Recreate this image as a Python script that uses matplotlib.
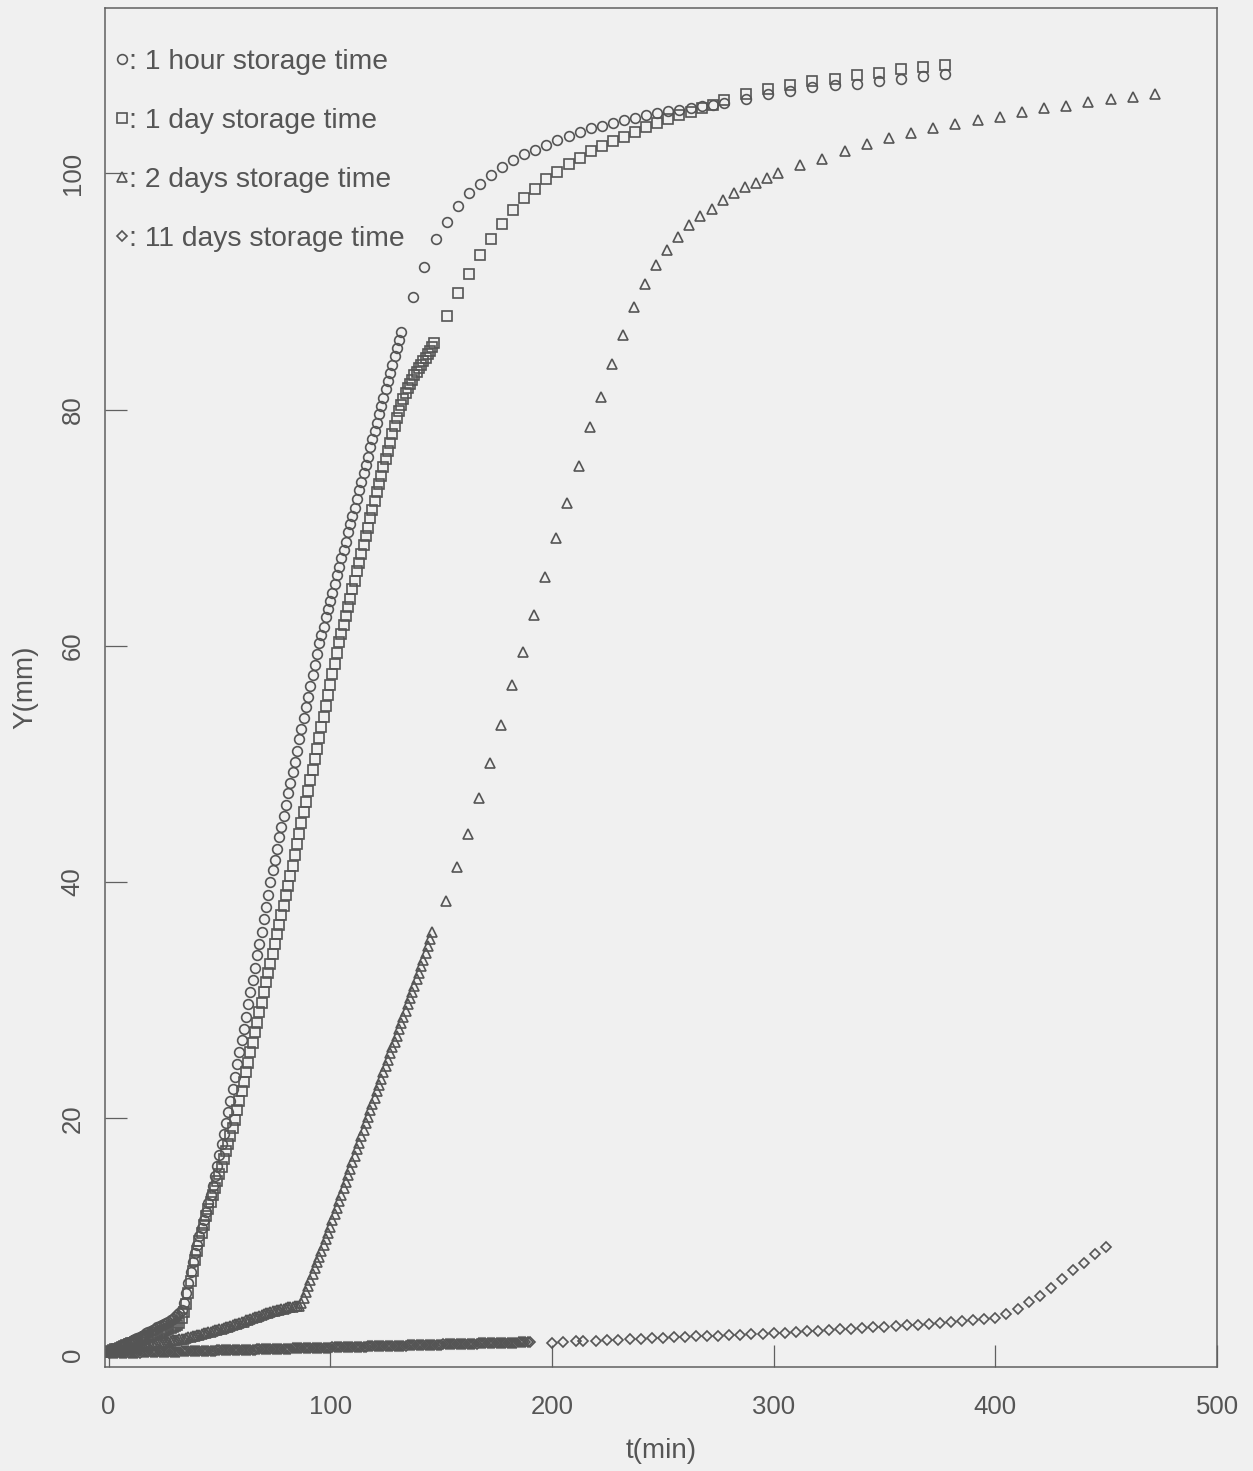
import matplotlib
matplotlib.use("Agg")
import matplotlib.pyplot as plt
import numpy as np

plt.rcParams['font.family'] = ['Liberation Sans', 'DejaVu Sans']

GREY = '#555555'
BG = '#f0f0f0'

# ---- 1 hour storage time (circles) ----
t_hour = list(range(0, 133)) + [
    137.5, 142.5, 147.5, 152.5, 157.5, 162.5, 167.5, 172.5, 177.5, 182.5,
    187.5, 192.5, 197.5, 202.5, 207.5, 212.5, 217.5, 222.5, 227.5, 232.5,
    237.5, 242.5, 247.5, 252.5, 257.5, 262.5, 267.5, 272.5, 277.5,
    287.5, 297.5, 307.5, 317.5, 327.5, 337.5, 347.5, 357.5, 367.5, 377.5]
y_hour = [
    0.2, 0.3, 0.4, 0.5, 0.6, 0.7, 0.75, 0.85, 0.95, 1.0,
    1.1, 1.2, 1.3, 1.4, 1.5, 1.6, 1.7, 1.8, 1.9, 2.0,
    2.1, 2.2, 2.3, 2.4, 2.5, 2.6, 2.7, 2.8, 2.9, 3.0,
    3.2, 3.35, 3.5, 3.8, 4.4, 5.2, 6.1, 7.0, 7.8, 8.6,
    9.3, 10.0, 10.7, 11.4, 12.1, 12.8, 13.5, 14.3, 15.1, 16.0,
    16.9, 17.8, 18.7, 19.6, 20.5, 21.5, 22.5, 23.5, 24.6, 25.6,
    26.6, 27.6, 28.6, 29.7, 30.7, 31.7, 32.7, 33.8, 34.8, 35.8,
    36.9, 37.9, 38.9, 40.0, 41.0, 41.9, 42.8, 43.8, 44.7, 45.6,
    46.5, 47.5, 48.4, 49.3, 50.2, 51.1, 52.1, 53.0, 53.9, 54.8,
    55.7, 56.6, 57.5, 58.4, 59.3, 60.2, 60.9, 61.6, 62.4, 63.1,
    63.8, 64.5, 65.2, 66.0, 66.7, 67.4, 68.1, 68.8, 69.6, 70.3,
    71.0, 71.7, 72.4, 73.2, 73.9, 74.6, 75.3, 76.0, 76.8, 77.5,
    78.2, 78.9, 79.6, 80.3, 81.0, 81.7, 82.4, 83.1, 83.8, 84.5,
    85.2, 85.9, 86.6,
    89.5, 92.1, 94.4, 95.9, 97.2, 98.3, 99.1, 99.9, 100.5, 101.1,
    101.6, 102.0, 102.4, 102.8, 103.2, 103.5, 103.8, 104.0, 104.3, 104.5,
    104.7, 104.9, 105.1, 105.3, 105.4, 105.5, 105.7, 105.8, 105.95,
    106.3, 106.7, 107.0, 107.3, 107.5, 107.6, 107.8, 108.0, 108.2, 108.4]

# ---- 1 day storage time (squares) ----
t_day = list(range(0, 148)) + [
    152.5, 157.5, 162.5, 167.5, 172.5, 177.5, 182.5, 187.5, 192.5, 197.5,
    202.5, 207.5, 212.5, 217.5, 222.5, 227.5, 232.5, 237.5, 242.5, 247.5,
    252.5, 257.5, 262.5, 267.5, 272.5, 277.5,
    287.5, 297.5, 307.5, 317.5, 327.5, 337.5, 347.5, 357.5, 367.5, 377.5]
y_day = [
    0.2, 0.3, 0.35, 0.45, 0.5, 0.6, 0.65, 0.75, 0.8, 0.9,
    0.95, 1.0, 1.1, 1.15, 1.2, 1.3, 1.35, 1.45, 1.5, 1.6,
    1.65, 1.7, 1.8, 1.85, 1.95, 2.0, 2.1, 2.15, 2.25, 2.3,
    2.4, 2.5, 2.7, 3.1, 3.6, 4.3, 5.2, 6.2, 7.1, 8.0,
    8.8, 9.6, 10.3, 11.0, 11.7, 12.3, 12.9, 13.5, 14.1, 14.7,
    15.3, 15.9, 16.6, 17.2, 17.8, 18.5, 19.2, 19.9, 20.7, 21.5,
    22.3, 23.1, 23.9, 24.7, 25.6, 26.4, 27.3, 28.1, 29.0, 29.8,
    30.7, 31.5, 32.3, 33.1, 33.9, 34.8, 35.6, 36.4, 37.2, 38.0,
    38.9, 39.7, 40.5, 41.4, 42.3, 43.2, 44.1, 45.0, 45.9, 46.8,
    47.7, 48.6, 49.5, 50.4, 51.3, 52.2, 53.1, 54.0, 54.9, 55.8,
    56.7, 57.6, 58.5, 59.4, 60.3, 61.0, 61.8, 62.5, 63.3, 64.0,
    64.8, 65.5, 66.3, 67.0, 67.8, 68.5, 69.3, 70.0, 70.8, 71.5,
    72.3, 73.0, 73.7, 74.4, 75.1, 75.8, 76.5, 77.2, 77.9, 78.6,
    79.3, 79.9, 80.4, 80.9, 81.4, 81.8, 82.2, 82.5, 82.9, 83.2,
    83.5, 83.8, 84.1, 84.4, 84.7, 85.0, 85.3, 85.6,
    87.9, 89.9, 91.5, 93.1, 94.4, 95.7, 96.9, 97.9, 98.7, 99.5,
    100.1, 100.8, 101.3, 101.9, 102.3, 102.7, 103.1, 103.5, 103.9, 104.3,
    104.6, 104.9, 105.2, 105.5, 105.8, 106.2,
    106.7, 107.1, 107.5, 107.8, 108.0, 108.3, 108.5, 108.8, 109.0, 109.2]

# ---- 2 days storage time (triangles) ----
t_2days = list(range(0, 147)) + [
    152, 157, 162, 167, 172, 177, 182, 187, 192, 197,
    202, 207, 212, 217, 222, 227, 232, 237, 242, 247,
    252, 257, 262, 267, 272, 277, 282, 287, 292, 297, 302,
    312, 322, 332, 342, 352, 362, 372, 382, 392, 402,
    412, 422, 432, 442, 452, 462, 472]
y_2days = [
    0.2, 0.25, 0.3, 0.3, 0.35, 0.4, 0.4, 0.45, 0.5, 0.5,
    0.55, 0.6, 0.6, 0.65, 0.7, 0.7, 0.75, 0.8, 0.8, 0.85,
    0.9, 0.9, 0.95, 1.0, 1.0, 1.05, 1.1, 1.1, 1.15, 1.2,
    1.2, 1.25, 1.3, 1.3, 1.35, 1.4, 1.45, 1.5, 1.55, 1.6,
    1.65, 1.7, 1.75, 1.8, 1.85, 1.9, 1.95, 2.0, 2.05, 2.1,
    2.15, 2.2, 2.25, 2.3, 2.35, 2.4, 2.5, 2.55, 2.6, 2.7,
    2.75, 2.8, 2.9, 2.95, 3.0, 3.1, 3.15, 3.2, 3.3, 3.35,
    3.4, 3.5, 3.55, 3.6, 3.65, 3.7, 3.75, 3.8, 3.85, 3.9,
    3.95, 4.0, 4.0, 4.05, 4.1, 4.1, 4.1, 4.4, 4.8, 5.3,
    5.8, 6.3, 6.8, 7.3, 7.8, 8.3, 8.8, 9.3, 9.8, 10.3,
    10.8, 11.4, 11.9, 12.4, 13.0, 13.5, 14.1, 14.6, 15.2, 15.7,
    16.3, 16.8, 17.4, 17.9, 18.5, 19.0, 19.6, 20.1, 20.7, 21.2,
    21.7, 22.3, 22.8, 23.3, 23.9, 24.4, 24.9, 25.5, 26.0, 26.5,
    27.0, 27.6, 28.1, 28.6, 29.1, 29.7, 30.2, 30.7, 31.2, 31.8,
    32.3, 32.9, 33.4, 34.0, 34.6, 35.2, 35.8,
    38.4, 41.3, 44.1, 47.1, 50.1, 53.3, 56.7, 59.5, 62.6, 65.8,
    69.1, 72.1, 75.2, 78.5, 81.1, 83.9, 86.3, 88.7, 90.6, 92.2,
    93.5, 94.6, 95.6, 96.4, 97.0, 97.7, 98.3, 98.8, 99.2, 99.6, 100.0,
    100.7, 101.2, 101.9, 102.5, 103.0, 103.4, 103.8, 104.2, 104.5, 104.8,
    105.2, 105.5, 105.7, 106.0, 106.3, 106.5, 106.7]

# ---- 11 days storage time (diamonds) ----
t_11days = list(range(0, 191)) + [
    200, 205, 211, 214, 220, 225, 230, 235, 240, 245,
    250, 255, 260, 265, 270, 275, 280, 285, 290, 295,
    300, 305, 310, 315, 320, 325, 330, 335, 340, 345,
    350, 355, 360, 365, 370, 375, 380, 385, 390, 395,
    400, 405, 410, 415, 420, 425, 430, 435, 440, 445, 450]
y_11days = [
    0.10, 0.11, 0.11, 0.12, 0.12, 0.13, 0.13, 0.14, 0.14, 0.15,
    0.15, 0.16, 0.16, 0.17, 0.17, 0.18, 0.18, 0.19, 0.19, 0.20,
    0.20, 0.21, 0.21, 0.22, 0.22, 0.23, 0.23, 0.24, 0.24, 0.25,
    0.25, 0.26, 0.26, 0.27, 0.27, 0.28, 0.28, 0.29, 0.29, 0.30,
    0.30, 0.31, 0.31, 0.32, 0.32, 0.33, 0.33, 0.34, 0.34, 0.35,
    0.35, 0.36, 0.36, 0.37, 0.37, 0.38, 0.38, 0.39, 0.39, 0.40,
    0.40, 0.41, 0.41, 0.42, 0.42, 0.43, 0.43, 0.44, 0.44, 0.45,
    0.45, 0.46, 0.46, 0.47, 0.47, 0.48, 0.48, 0.49, 0.49, 0.50,
    0.50, 0.51, 0.51, 0.52, 0.52, 0.53, 0.53, 0.54, 0.54, 0.55,
    0.55, 0.56, 0.56, 0.57, 0.57, 0.58, 0.58, 0.59, 0.59, 0.60,
    0.60, 0.61, 0.61, 0.62, 0.62, 0.63, 0.63, 0.64, 0.64, 0.65,
    0.65, 0.66, 0.66, 0.67, 0.67, 0.68, 0.68, 0.69, 0.69, 0.70,
    0.70, 0.71, 0.71, 0.72, 0.72, 0.73, 0.73, 0.74, 0.74, 0.75,
    0.75, 0.76, 0.76, 0.77, 0.77, 0.78, 0.78, 0.79, 0.79, 0.80,
    0.80, 0.81, 0.81, 0.82, 0.82, 0.83, 0.83, 0.84, 0.84, 0.85,
    0.85, 0.86, 0.86, 0.87, 0.87, 0.88, 0.88, 0.89, 0.89, 0.90,
    0.90, 0.91, 0.91, 0.92, 0.92, 0.93, 0.93, 0.94, 0.94, 0.95,
    0.95, 0.96, 0.96, 0.97, 0.97, 0.98, 0.98, 0.99, 0.99, 1.00,
    1.00, 1.01, 1.01, 1.02, 1.02, 1.03, 1.03, 1.04, 1.04, 1.05,
    1.05,
    1.02, 1.05, 1.12, 1.14, 1.18, 1.22, 1.27, 1.31, 1.35, 1.39,
    1.44, 1.47, 1.51, 1.54, 1.58, 1.61, 1.65, 1.69, 1.73, 1.78,
    1.83, 1.87, 1.92, 1.97, 2.02, 2.08, 2.14, 2.20, 2.26, 2.31,
    2.36, 2.41, 2.47, 2.53, 2.62, 2.70, 2.78, 2.86, 2.93, 3.00,
    3.07, 3.44, 3.86, 4.43, 4.99, 5.64, 6.40, 7.13, 7.74, 8.50, 9.08]

labels = [': 1 hour storage time', ': 1 day storage time',
          ': 2 days storage time', ': 11 days storage time']

fig = plt.figure(figsize=(12.53, 14.71), dpi=100, facecolor=BG)
ax = fig.add_axes([0.0838, 0.0707, 0.8875, 0.9239], facecolor=BG)

style = dict(ls='none', mfc='none', mec=GREY, mew=1.2)
h1, = ax.plot(t_hour, y_hour, marker='o', ms=7, **style)
h2, = ax.plot(t_day, y_day, marker='s', ms=6.5, **style)
h3, = ax.plot(t_2days, y_2days, marker='^', ms=7, **style)
h4, = ax.plot(t_11days, y_11days, marker='D', ms=4.6, **style)

ax.set_xlim(-1.6, 500)
ax.set_ylim(-1.05, 114)
ax.set_xticks([0, 100, 200, 300, 400, 500])
ax.set_yticks([0, 20, 40, 60, 80, 100])

for s in ax.spines.values():
    s.set_color('#606060')
    s.set_linewidth(1.1)

ax.tick_params(axis='both', direction='in', length=16, width=0.9,
               color='#606060', labelcolor=GREY, labelsize=18.5)
ax.tick_params(axis='x', pad=20)
ax.tick_params(axis='y', pad=14.5)
for lab in ax.get_yticklabels():
    lab.set_rotation(90)
    lab.set_va('center')

ax.set_xlabel('t(min)', fontsize=20, color=GREY, labelpad=14)
ax.set_ylabel('Y(mm)', fontsize=20, color=GREY, labelpad=16)

leg = ax.legend([h1, h2, h3, h4], labels, loc='upper left',
                bbox_to_anchor=(0.009, 0.970), frameon=False,
                fontsize=20.3, handlelength=0.5, handletextpad=0.0,
                labelspacing=1.17, borderaxespad=0, borderpad=0,
                numpoints=1)
for txt in leg.get_texts():
    txt.set_color(GREY)

fig.savefig('out.png', dpi=100, facecolor=BG)
